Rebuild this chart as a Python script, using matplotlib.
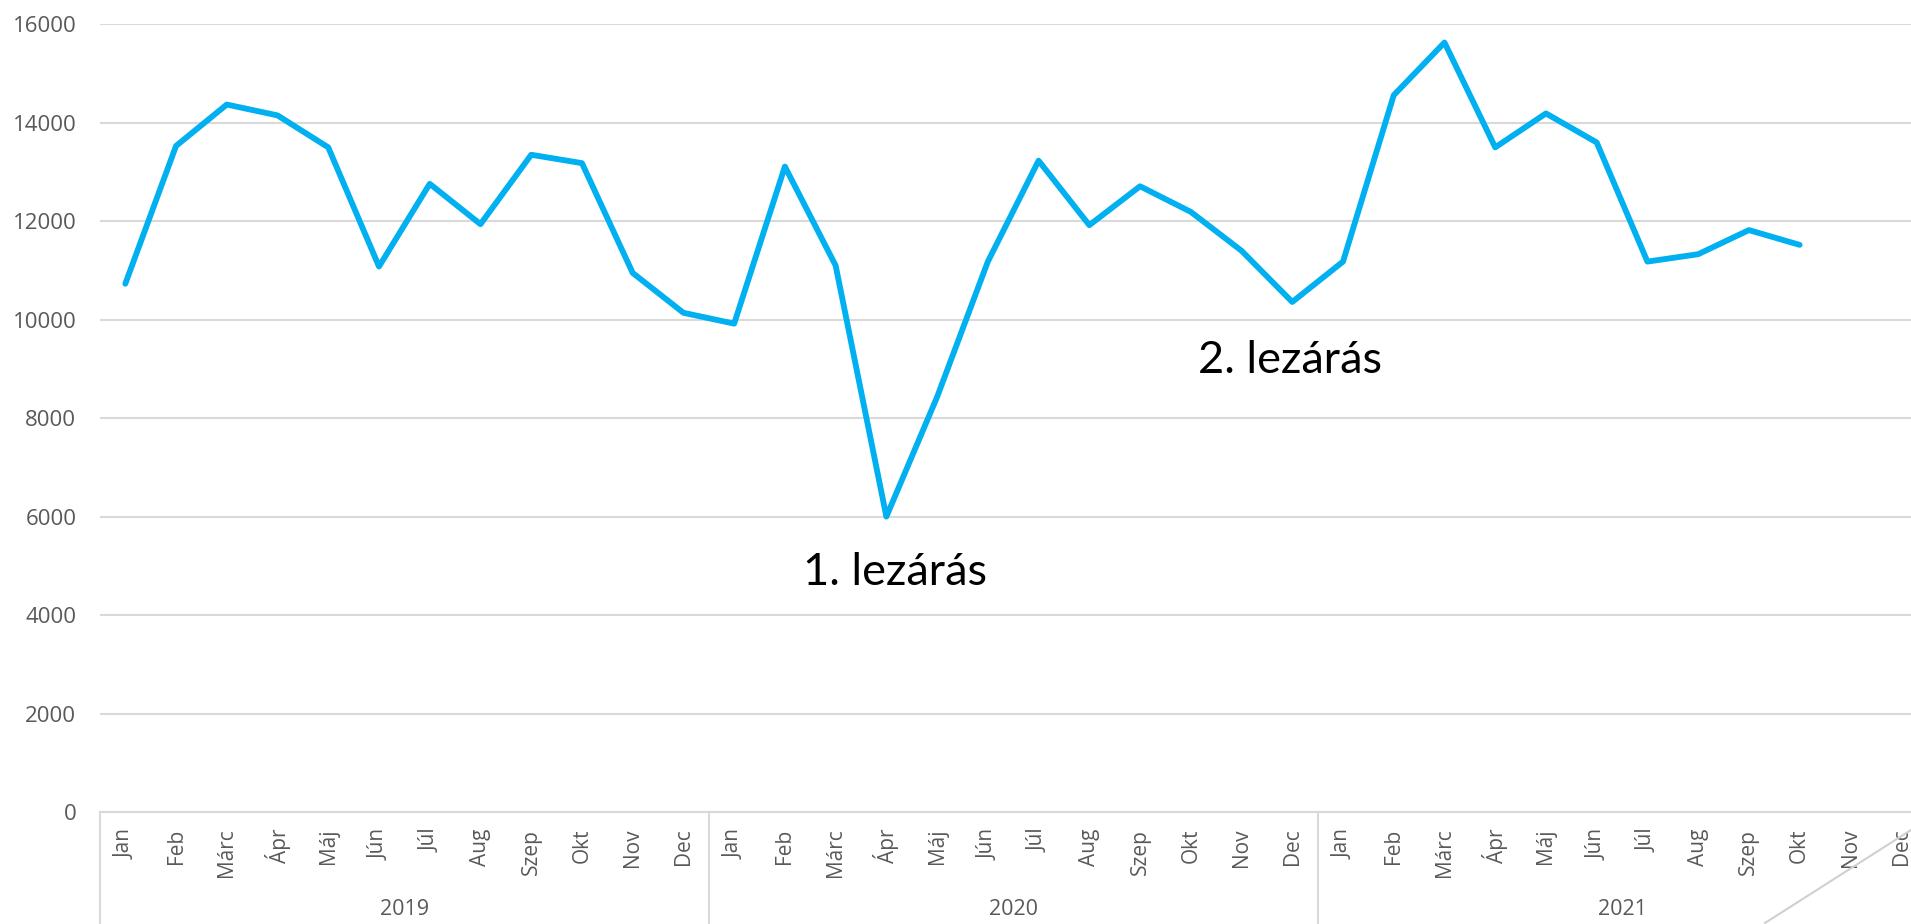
import matplotlib.pyplot as plt
from matplotlib.lines import Line2D
from matplotlib.transforms import blended_transform_factory

honapok = ['Jan', 'Feb', 'Márc', 'Ápr', 'Máj', 'Jún', 'Júl', 'Aug', 'Szep', 'Okt', 'Nov', 'Dec']
evek = ['2019', '2020', '2021']
ertekek = [10730, 13530, 14370, 14150, 13500, 11080, 12760, 11940, 13350, 13180, 10950, 10140,
           9920, 13110, 11100, 6000, 8430, 11180, 13230, 11920, 12710, 12190, 11400, 10360,
           11180, 14560, 15630, 13500, 14190, 13600, 11180, 11330, 11820, 11520]

szurke = '#595959'
racs = '#D9D9D9'

fig = plt.figure(figsize=(19.11, 9.24), dpi=100)
ax = fig.add_axes([0.0523, 0.1212, 0.9558, 0.8525])

n = len(honapok) * len(evek)
ax.plot(range(len(ertekek)), ertekek, color='#00B0F0', lw=4.2, solid_joinstyle='round',
        solid_capstyle='round', zorder=3)

ax.set_xlim(-0.5, n - 0.5)
ax.set_ylim(0, 16000)
ax.set_yticks(range(0, 16001, 2000))
ax.yaxis.grid(True, color=racs, lw=1.5)
ax.set_axisbelow(True)
for s in ['top', 'right', 'left']:
    ax.spines[s].set_visible(False)
ax.spines['bottom'].set_color(racs)
ax.spines['bottom'].set_linewidth(1.5)

ax.set_xticks(range(n))
ax.set_xticklabels(honapok * len(evek), rotation=90, va='top', ha='center')
ax.tick_params(axis='x', length=0, pad=12, labelsize=15, labelcolor=szurke)
ax.tick_params(axis='y', length=0, pad=17, labelsize=16, labelcolor=szurke)
for lbl in ax.get_xticklabels() + ax.get_yticklabels():
    lbl.set_fontfamily('Open Sans')

# evek es elvalaszto vonalak a tengely alatt
tr = blended_transform_factory(ax.transData, fig.transFigure)
for i, ev in enumerate(evek):
    ax.text(12 * i + 5.5, 0.016, ev, transform=tr, ha='center', va='center',
            fontsize=15.5, color=szurke, family='Open Sans')
for x in range(-1, n, 12):
    ax.add_line(Line2D([x + 0.5, x + 0.5], [0, 0.1212], transform=tr, color=racs,
                       lw=1.5, clip_on=False))

ax.text(13.36, 4611, '1. lezárás', fontsize=32.5, family='Lato', ha='left', va='baseline')
ax.text(21.14, 8917, '2. lezárás', fontsize=32.5, family='Lato', ha='left', va='baseline')

# atlos vonal a jobb also sarokban
fig.add_artist(Line2D([1765 / 1911, 1.0], [1 / 924, 94 / 924], color='#D0D0D0', lw=1.5))

fig.savefig('out.png', dpi=100)
